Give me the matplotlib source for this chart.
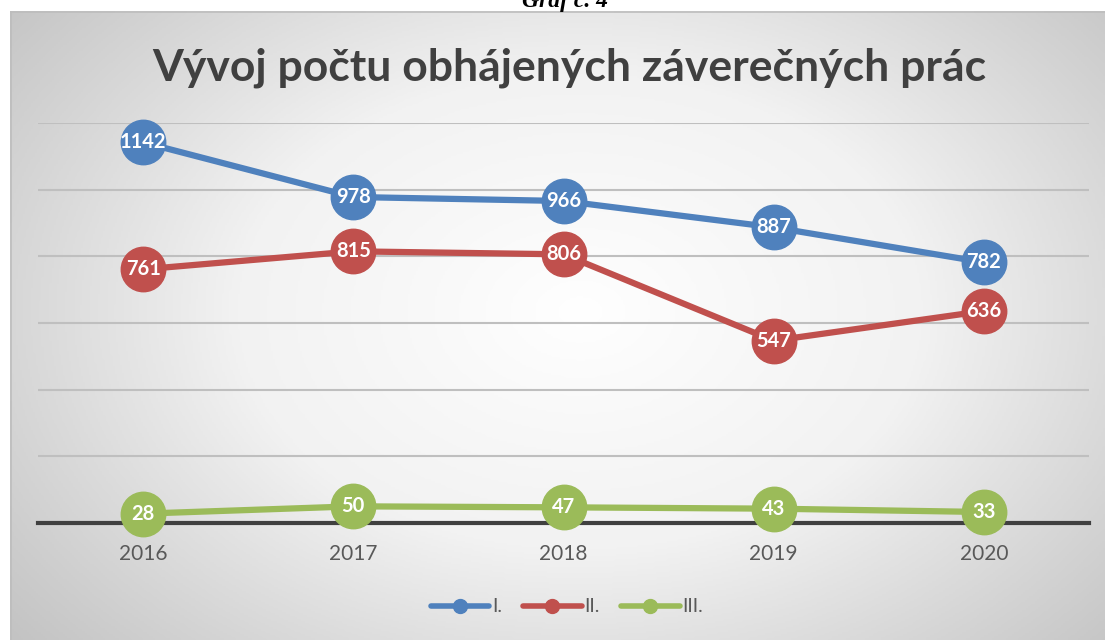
import numpy as np
import matplotlib.pyplot as plt
from matplotlib.colors import LinearSegmentedColormap

# --- data ---
years = ["2016", "2017", "2018", "2019", "2020"]
series_names = ["I.", "II.", "III."]
values_1 = [1142, 978, 966, 887, 782]
values_2 = [761, 815, 806, 547, 636]
values_3 = [28, 50, 47, 43, 33]
colors = ["#4f81bd", "#c0504d", "#9bbb59"]

W, H = 1105, 640
fig = plt.figure(figsize=(W / 100, H / 100), dpi=100)
fig.patch.set_facecolor("white")

# --- radial gradient background for chart area ---
bg = fig.add_axes([10 / W, 0, 1 - 10 / W, (H - 11) / H])
bg.set_axis_off()
ny, nx = 300, 520
yy, xx = np.mgrid[0:ny, 0:nx]
cx, cy = 0.52 * nx, 0.52 * ny
dist = np.sqrt(((xx - cx) / (nx * 0.62)) ** 2 + ((yy - cy) / (ny * 0.75)) ** 2)
dist = np.clip(dist / dist.max(), 0, 1) ** 0.9
cmap = LinearSegmentedColormap.from_list("bg", ["#ffffff", "#f2f2f2", "#c3c3c3"])
bg.imshow(dist, cmap=cmap, aspect="auto", extent=[0, 1, 0, 1], origin="lower")
bg.set_xlim(0, 1)
bg.set_ylim(0, 1)
bg.plot([0.0005, 0.0005], [0, 1], color="#bdbdbd", lw=1.2)
bg.plot([0, 1], [0.999, 0.999], color="#bdbdbd", lw=1.2)

# caption above chart, cut off by the top edge as in the source page
fig.text(565 / W, 1 - 7 / H, "Graf č. 4", ha="center", va="baseline",
         fontsize=17, fontweight="bold", fontstyle="italic",
         family="Liberation Serif", color="#000000")

# --- main plot ---
ax = fig.add_axes([38 / W, 117 / H, (1089 - 38) / W, 400 / H])
ax.set_facecolor("none")
x = np.arange(len(years))
ax.set_xlim(-0.5, len(years) - 0.5)
ax.set_ylim(0, 1200)
ax.set_yticks(np.arange(200, 1201, 200))
ax.yaxis.grid(True, color="#bfbfbf", lw=1.5)
ax.set_yticklabels([])
ax.tick_params(axis="y", length=0)
for s in ax.spines.values():
    s.set_visible(False)
ax.axhline(0, color="#404040", lw=3, zorder=2, clip_on=False)
ax.set_xticks(x)
ax.set_xticklabels(years, fontsize=15, color="#595959", family="Lato")
ax.tick_params(axis="x", length=0, pad=15)

all_values = [values_1, values_2, values_3]
for i, (name, vals, c) in enumerate(zip(series_names, all_values, colors)):
    ax.plot(x, vals, color=c, lw=4.5, solid_capstyle="round", zorder=3 + i,
            clip_on=False)
    ax.plot(x, vals, "o", color=c, ms=32, zorder=6 + i, clip_on=False)
    for xi, v in zip(x, vals):
        ax.text(xi, v, str(v), ha="center", va="center", color="white",
                fontsize=14.5, fontweight="bold", family="Lato", zorder=10)

fig.text(569 / W, 1 - 68 / H, "Vývoj počtu obhájených záverečných prác",
         ha="center", va="center", fontsize=32, fontweight="bold",
         family="Lato", color="#404040")

handles = [plt.Line2D([], [], color=c, lw=4, marker="o", ms=10,
                      solid_capstyle="round") for c in colors]
fig.legend(handles, series_names, loc="center", ncol=3, frameon=False,
           bbox_to_anchor=(567 / W, 1 - 607 / H), handlelength=3.0,
           handletextpad=0.15, columnspacing=1.1,
           prop={"family": "Lato", "size": 14}, labelcolor="#595959")

fig.savefig("out.png", dpi=100)
